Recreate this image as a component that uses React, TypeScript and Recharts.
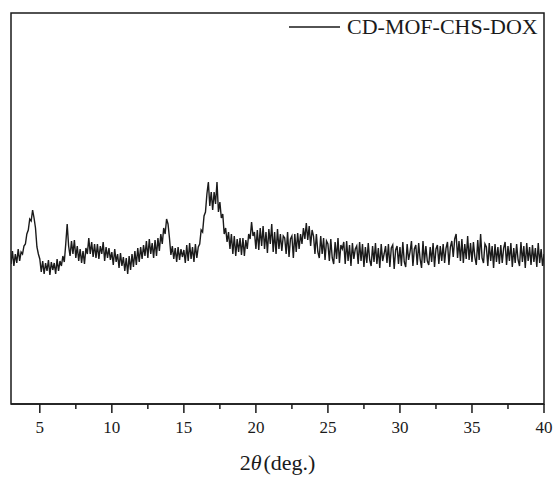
import React from "react";
import { LineChart, Line, XAxis, YAxis, ReferenceArea } from "recharts";

// 2θ sampling of the scan
const angleStart = 3;
const angleStep = 0.1;

// intensity (a.u.), one row per degree
const scan3to10 = [
  140, 153, 138, 150, 141, 155, 143, 152, 150, 158,
  160, 170, 174, 185, 183, 194, 186, 176, 157, 150,
  145, 132, 143, 130, 141, 133, 144, 129, 142, 134,
  141, 130, 145, 133, 143, 138, 148, 142, 160, 180,
  158, 148, 163, 150, 164, 146, 158, 143, 155, 141,
  153, 140, 156, 150, 166, 150, 162, 147, 160, 146,
  160, 145, 158, 150, 162, 143, 157, 146, 156, 144,
];
const scan10to20 = [
  152, 139, 155, 142, 150, 136, 151, 138, 147, 133,
  146, 130, 148, 134, 150, 137, 153, 139, 156, 142,
  157, 145, 159, 148, 163, 146, 165, 150, 161, 146,
  164, 148, 166, 153, 170, 160, 176, 170, 185, 180,
  166, 149, 158, 145, 156, 142, 157, 144, 155, 147,
  154, 141, 159, 143, 161, 145, 157, 142, 160, 146,
  157, 160, 174, 172, 188, 192, 210, 222, 198, 212,
  194, 212, 200, 222, 192, 202, 186, 190, 170, 176,
  162, 172, 155, 170, 150, 168, 148, 165, 152, 166,
  149, 166, 148, 164, 155, 170, 165, 182, 168, 172,
];
const scan20to30 = [
  155, 174, 154, 176, 158, 178, 155, 172, 151, 175,
  160, 180, 152, 172, 150, 175, 155, 170, 153, 168,
  166, 150, 172, 147, 165, 168, 146, 170, 152, 171,
  155, 170, 160, 176, 165, 181, 164, 178, 158, 174,
  168, 150, 170, 152, 146, 168, 150, 166, 144, 163,
  160, 143, 165, 146, 140, 162, 145, 166, 141, 159,
  155, 162, 140, 163, 143, 159, 138, 161, 145, 155,
  158, 140, 162, 143, 160, 137, 157, 141, 161, 144,
  138, 158, 142, 161, 140, 156, 136, 160, 143, 150,
  158, 141, 160, 137, 156, 159, 135, 154, 158, 140,
];
const scan30to40 = [
  157, 138, 162, 142, 137, 160, 144, 152, 163, 138,
  155, 159, 139, 161, 145, 136, 163, 141, 158, 143,
  139, 157, 142, 161, 137, 155, 159, 140, 158, 143,
  160, 141, 156, 162, 139, 157, 163, 147, 165, 170,
  146, 163, 143, 165, 141, 160, 145, 168, 144, 161,
  142, 162, 147, 139, 164, 144, 170, 146, 141, 160,
  157, 138, 161, 143, 158, 136, 160, 142, 157, 140,
  159, 141, 156, 162, 139, 158, 143, 161, 137, 156,
  141, 160, 144, 138, 162, 142, 158, 136, 161, 143,
  157, 139, 159, 142, 156, 137, 161, 141, 155, 138,
  150,
];

const xTicks = [5, 7.5, 10, 12.5, 15, 17.5, 20, 22.5, 25, 27.5, 30, 32.5, 35, 37.5, 40];
const seriesName = "CD-MOF-CHS-DOX";

const intensities = [...scan3to10, ...scan10to20, ...scan20to30, ...scan30to40];
const data = intensities.map((v, i) => ({
  angle: Number((angleStart + i * angleStep).toFixed(1)),
  intensity: v,
}));

const FONT = "'Liberation Serif', 'Times New Roman', serif";
const INK = "#1a1a1a";

const AngleTick = (props: any) => {
  const { x, y, payload } = props;
  const major = payload.value % 5 === 0;
  return (
    <g>
      <line x1={x} x2={x} y1={y} y2={y + (major ? 9 : 5)} stroke={INK} strokeWidth={1.5} />
      {major && (
        <text x={x} y={y + 29} textAnchor="middle" fontSize={17} fontFamily={FONT} fill={INK}>
          {payload.value}
        </text>
      )}
    </g>
  );
};

const AxisTitle = (props: any) => {
  const { viewBox } = props;
  const cx = viewBox.x + viewBox.width / 2;
  return (
    <text x={cx} y={viewBox.y + 66} textAnchor="middle" fontSize={22} fontFamily={FONT} fill={INK}>
      2<tspan fontStyle="italic">θ</tspan>
      <tspan dx={2}>(deg.)</tspan>
    </text>
  );
};

const App = () => {
  return (
    <div style={{ position: "absolute", left: 0, top: 0, width: 556, height: 477, background: "#fff" }}>
      <LineChart
        width={556}
        height={477}
        data={data}
        margin={{ top: 13, right: 12, left: 11, bottom: 13 }}
      >
        <XAxis
          dataKey="angle"
          type="number"
          domain={[3, 40]}
          ticks={xTicks}
          interval={0}
          allowDataOverflow
          height={60}
          tickSize={0}
          tickMargin={0}
          tickLine={false}
          tick={<AngleTick />}
          axisLine={{ stroke: INK, strokeWidth: 1.5 }}
          label={<AxisTitle />}
        />
        <YAxis type="number" domain={[0, 391]} hide />
        <ReferenceArea
          x1={3}
          x2={40}
          y1={0}
          y2={391}
          fill="none"
          stroke={INK}
          strokeWidth={1.5}
          fillOpacity={0}
          ifOverflow="visible"
        />
        <Line
          type="linear"
          dataKey="intensity"
          name={seriesName}
          stroke={INK}
          strokeWidth={1.4}
          dot={false}
          isAnimationActive={false}
        />
      </LineChart>
      <div
        style={{
          position: "absolute",
          top: 13,
          left: 289,
          display: "flex",
          alignItems: "center",
          fontFamily: FONT,
          fontSize: 22,
          color: INK,
          lineHeight: "28px",
        }}
      >
        <svg width={52} height={10} style={{ marginRight: 6 }}>
          <line x1={0} x2={51} y1={5} y2={5} stroke={INK} strokeWidth={1.3} />
        </svg>
        <span>{seriesName}</span>
      </div>
    </div>
  );
};

export default App;
